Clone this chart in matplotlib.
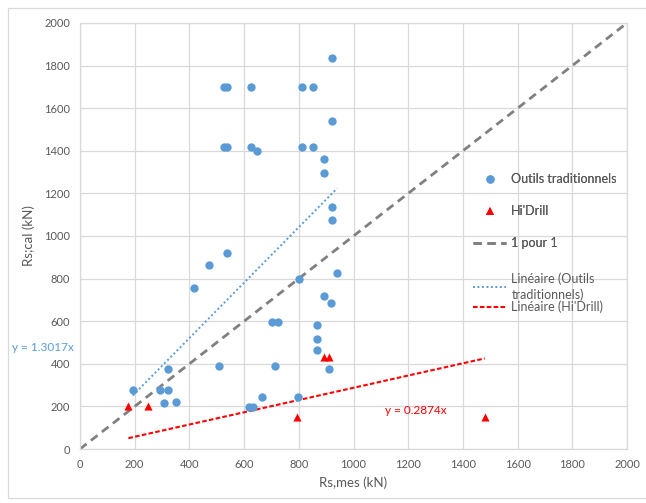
import matplotlib.pyplot as plt
import numpy as np
from matplotlib.lines import Line2D
from matplotlib.patches import Rectangle

plt.rcParams["font.family"] = ["Lato", "DejaVu Sans"]

# Outils traditionnels (Rs,mes ; Rs,cal) in kN
trad_x = [920, 527, 536, 624, 813, 853, 920, 527, 536, 624, 646, 813, 853, 891,
          891, 920, 920, 193, 322, 293, 322, 308, 352, 417, 470, 537, 509, 619,
          634, 664, 703, 725, 713, 801, 796, 940, 891, 919, 868, 868, 868, 909]
trad_y = [1835, 1698, 1698, 1698, 1698, 1698, 1538, 1419, 1419, 1419, 1397, 1419,
          1419, 1360, 1298, 1136, 1073, 277, 374, 277, 277, 216, 219, 757, 865,
          918, 389, 199, 199, 244, 597, 597, 389, 796, 243, 824, 719, 686, 584,
          515, 467, 374]

# Hi'Drill
hid_x = [177, 250, 892, 909, 792, 1480]
hid_y = [200, 200, 433, 433, 152, 152]

slope_trad = 1.3017
slope_hid = 0.2874
one_to_one = [0, 2000]

BLUE = "#5B9BD5"
RED = "#FF0000"
GREY = "#808080"
TXT = "#595959"
GRID = "#D9D9D9"

fig = plt.figure(figsize=(6.46, 5.03), dpi=100)
ax = fig.add_axes([80 / 646, 1 - 449 / 503, 547 / 646, 426 / 503])

ax.plot(one_to_one, one_to_one, color=GREY, lw=2.0, dashes=(3, 2), zorder=2)

tx = np.array([min(trad_x), max(trad_x)])
ax.plot(tx, slope_trad * tx, color=BLUE, lw=1.4, linestyle=(0, (1, 1.3)), zorder=2)
hx = np.array([min(hid_x), max(hid_x)])
ax.plot(hx, slope_hid * hx, color=RED, lw=1.5, dashes=(2.2, 1.1), zorder=2)

ax.scatter(trad_x, trad_y, s=36, color=BLUE, zorder=3, linewidths=0)
ax.scatter(hid_x, hid_y, s=34, marker="^", color=RED, zorder=3, linewidths=0)

ax.set_xlim(0, 2000)
ax.set_ylim(0, 2000)
ax.set_xticks(np.arange(0, 2001, 200))
ax.set_yticks(np.arange(0, 2001, 200))
ax.grid(True, color=GRID, lw=0.9)
ax.set_axisbelow(True)
for s in ax.spines.values():
    s.set_color(GRID)
    s.set_linewidth(0.9)
ax.tick_params(length=0, colors=TXT, labelsize=8, pad=7)
ax.set_xlabel("Rs,mes (kN)", color=TXT, fontsize=9.5, labelpad=5)
ax.set_ylabel("Rs;cal (kN)", color=TXT, fontsize=9.5, labelpad=7)

ax.text(-249, 475, "y = 1.3017x", color=BLUE, fontsize=8.5, ha="left",
        va="center", clip_on=False)
ax.text(1115, 183, "y = 0.2874x", color=RED, fontsize=8.5, ha="left",
        va="center")

# legend
h1 = [Line2D([], [], ls="none", marker="o", ms=6, color=BLUE, mew=0),
      Line2D([], [], ls="none", marker="^", ms=6, color=RED, mew=0),
      Line2D([], [], color=GREY, lw=2.0, dashes=(3, 2))]
leg1 = fig.legend(h1, ["Outils traditionnels", "Hi'Drill", "1 pour 1"],
                  loc="upper left", bbox_to_anchor=(467 / 646, 1 - 167 / 503),
                  frameon=False, fontsize=9, labelcolor=TXT, labelspacing=1.6,
                  handlelength=2.6, handletextpad=0.45, borderpad=0)
h2 = [Line2D([], [], color=BLUE, lw=1.4, linestyle=(0, (1, 1.3))),
      Line2D([], [], color=RED, lw=1.5, dashes=(2.2, 1.1))]
leg2 = fig.legend(h2, ["Linéaire (Outils\ntraditionnels)", "Linéaire (Hi'Drill)"],
                  loc="upper left", bbox_to_anchor=(467 / 646, 1 - 266 / 503),
                  frameon=False, fontsize=9, labelcolor=TXT, labelspacing=0.0,
                  handlelength=2.6, handletextpad=0.45, borderpad=0)
for t in leg2.get_texts():
    t.set_linespacing(1.3)
fig.add_artist(leg1)

fig.patches.append(Rectangle((8 / 646, 1 - 498 / 503), 650 / 646, 490 / 503,
                             transform=fig.transFigure, fill=False,
                             edgecolor=GRID, lw=0.9))

fig.savefig("out.png", dpi=100)
